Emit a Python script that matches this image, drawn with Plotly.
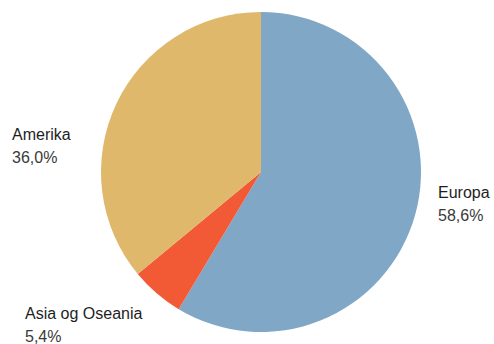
import plotly.graph_objects as go

regions = ["Europa", "Asia og Oseania", "Amerika"]
shares = [58.6, 5.4, 36.0]
share_labels = ["58,6%", "5,4%", "36,0%"]
colors = ["#80a8c6", "#f25a36", "#e0b86c"]

W, H = 494, 344
cx, cy, r = 261, 172, 160

fig = go.Figure()
fig.add_trace(go.Pie(
    labels=regions, values=shares, sort=False, direction="clockwise", rotation=0,
    marker=dict(colors=colors, line=dict(width=0)),
    textinfo="none", hoverinfo="skip", showlegend=False,
    domain=dict(x=[(cx - r) / W, (cx + r) / W], y=[(H - cy - r) / H, (H - cy + r) / H]),
))

# label positions (pixels): x left, y of name center, y of value center
label_pos = {"Europa": (436, 192.5, 215.5), "Asia og Oseania": (23, 313.5, 336.5), "Amerika": (10, 134.5, 157.5)}
annotations = []
for name, val in zip(regions, share_labels):
    x, y1, y2 = label_pos[name]
    for txt, yy, col in ((name, y1, "#1e1e1e"), (val, y2, "#3a3a3a")):
        annotations.append(dict(x=x / W, y=1 - yy / H, xref="paper", yref="paper", text=txt,
                                showarrow=False, xanchor="left", yanchor="middle",
                                font=dict(family="Liberation Sans, Arial, sans-serif", size=16, color=col)))

fig.update_layout(width=W, height=H, margin=dict(l=0, r=0, t=0, b=0),
                  paper_bgcolor="white", plot_bgcolor="white", annotations=annotations)
fig.write_html("out.html")
